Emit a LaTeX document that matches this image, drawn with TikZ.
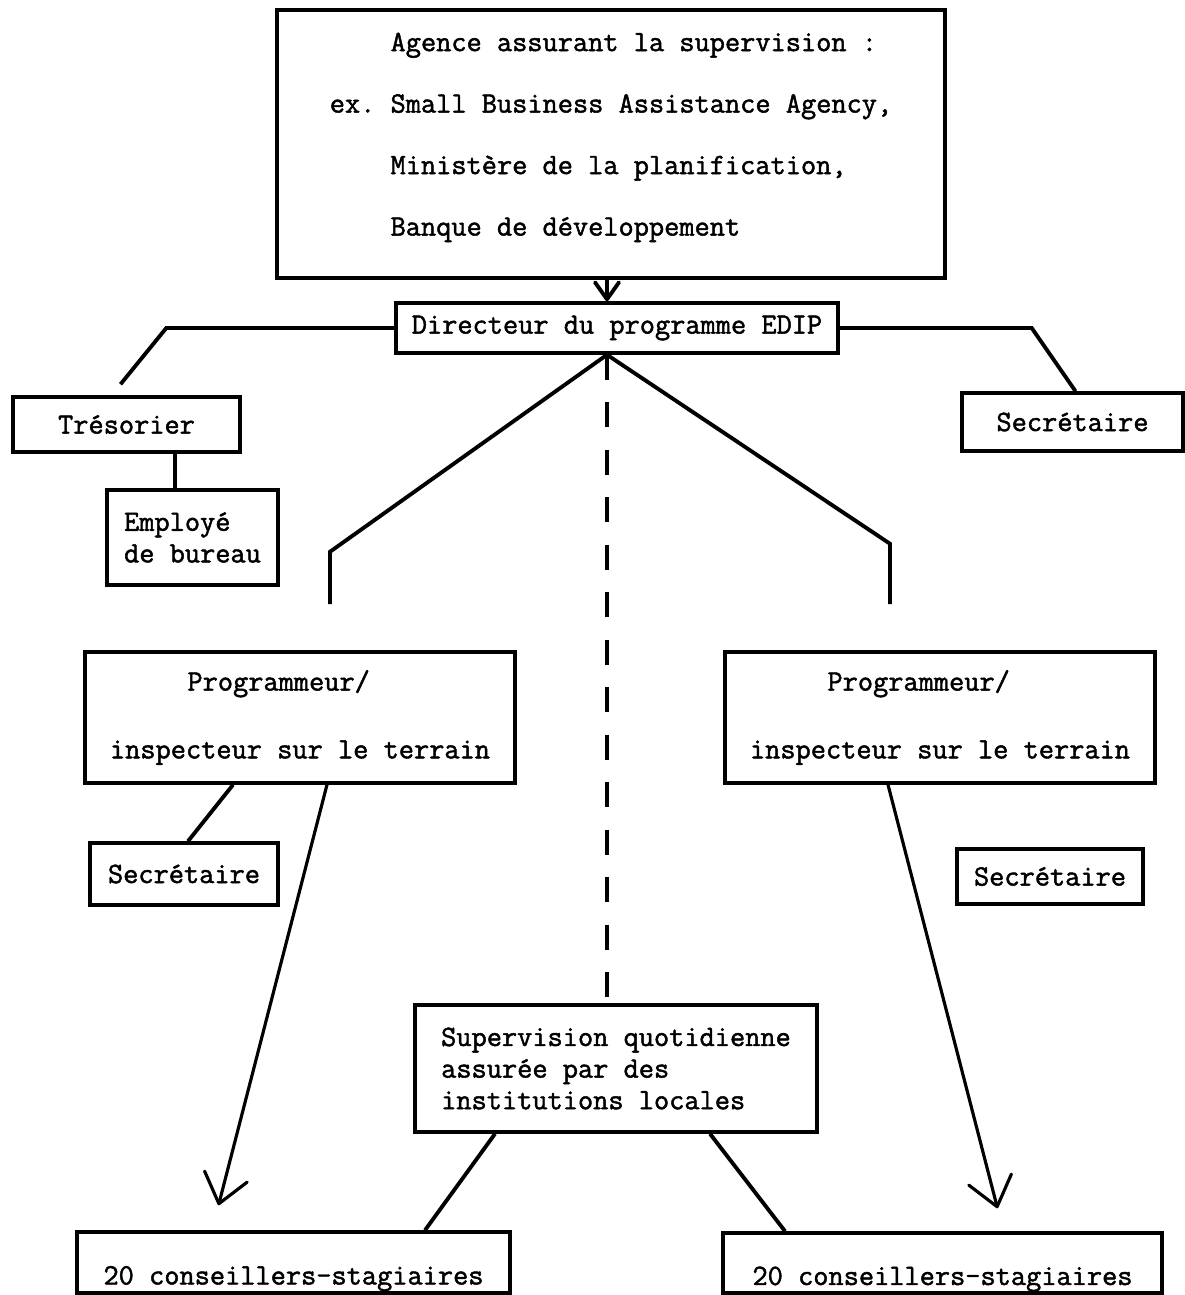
\documentclass[tikz,border=0pt]{standalone}
\usepackage{fontspec}
\usepackage{tikz}
\usetikzlibrary{arrows.meta,calc}
\newfontfamily\typew{Latin Modern Mono}[WordSpace={1,0,0},PunctuationSpace=WordSpace,FakeBold=1.6]

\begin{document}
\begin{tikzpicture}[
  x=0.02cm, y=-0.02cm,
  box/.style={draw, line width=2pt, inner sep=0pt, align=left,
              font=\typew\fontsize{16.8}{18}\selectfont},
  ln/.style={line width=2.2pt},
  arr/.style={line width=1.8pt, -{Straight Barb[length=5.6mm,width=8.8mm,round]}},
  arrs/.style={line width=2.2pt, -{Straight Barb[length=3.4mm,width=4.8mm,round]}},
  dsh/.style={line width=1.8pt, dash pattern=on 5mm off 4.5mm}]
\useasboundingbox (0,0) rectangle (1185,1295);
\node[box, minimum width=13.36cm, minimum height=5.36cm] (agence) at (611,144)
  {\raisebox{0pt}[\height][\dimexpr\depth+2.8mm\relax]{\begin{tabular}{@{}l@{}}
   \phantom{ex.~}Agence assurant la supervision :\\[17pt]
   ex.~Small Business Assistance Agency,\\[17pt]
   \phantom{ex.~}Ministère de la planification,\\[17pt]
   \phantom{ex.~}Banque de développement\end{tabular}}};
\node[box, minimum width=8.84cm, minimum height=1cm] (dir) at (617,328) {Directeur du programme EDIP};
\node[box, minimum width=4.54cm, minimum height=1.1cm] (tres) at (126.5,424.5) {Trésorier};
\node[box, minimum width=3.42cm, minimum height=1.9cm] (emp) at (192.5,537.5) {Employé\\de bureau};
\node[box, minimum width=4.42cm, minimum height=1.16cm] (secA) at (1072.5,422) {Secrétaire};
\node[box, minimum width=8.6cm, minimum height=2.62cm] (progL) at (300,717.5)
  {\hspace*{2.625em}Programmeur/\\[20.6pt]inspecteur sur le terrain};
\node[box, minimum width=8.6cm, minimum height=2.62cm] (progR) at (940,717.5)
  {\hspace*{2.625em}Programmeur/\\[20.6pt]inspecteur sur le terrain};
\node[box, minimum width=3.76cm, minimum height=1.24cm] (secL) at (184,874) {Secrétaire};
\node[box, minimum width=3.72cm, minimum height=1.1cm] (secR) at (1050,876.5) {Secrétaire};
\node[box, minimum width=8.04cm, minimum height=2.54cm] (sup) at (616,1068.5)
  {Supervision quotidienne\\assurée par des\\institutions locales};
\node[box, minimum width=8.66cm, minimum height=1.22cm, text height=25pt, text depth=0pt] (baseL) at (293.5,1262.5) {20 conseillers-stagiaires};
\node[box, minimum width=8.78cm, minimum height=1.2cm, text height=25pt, text depth=0pt] (baseR) at (942.5,1263) {20 conseillers-stagiaires};
\coordinate (apex) at ([xshift=-2mm]dir.south);
\coordinate (vL) at (330,604);
\coordinate (vR) at (890,604);
\draw[arrs] ([xshift=-2mm]dir.north |- agence.south) -- ([xshift=-2mm]dir.north);
\draw[ln] (dir.west) -- ++(-228,0) -- ([shift={(-6,-11)}]tres.north);
\draw[ln] (dir.east) -- ++(192,0) -- ([xshift=0.6mm]secA.north);
\draw[ln] ([xshift=9.7mm]tres.south) -- ([xshift=9.7mm]tres.south |- emp.north);
\draw[ln] (apex) -- ++(-277,197) -- (vL);
\draw[ln] (apex) -- ++(283,189) -- (vR);
\draw[dsh] (apex) -- (apex |- sup.north);
\draw[ln] ([xshift=-13.4mm]progL.south) -- ([xshift=0.8mm]secL.north);
\draw[arr] ([xshift=5.4mm]progL.south) -- ([shift={(-75,-25)}]baseL.north);
\draw[arr] ([xshift=-10.4mm]progR.south) -- ([shift={(55,-23)}]baseR.north);
\foreach \sa/\sb/\tg in {-24.2/26.3/baseL,18.8/-31.5/baseR}
  \draw[ln] ([xshift=\sa mm]sup.south) -- ([xshift=\sb mm]\tg.north);
\end{tikzpicture}
\end{document}
